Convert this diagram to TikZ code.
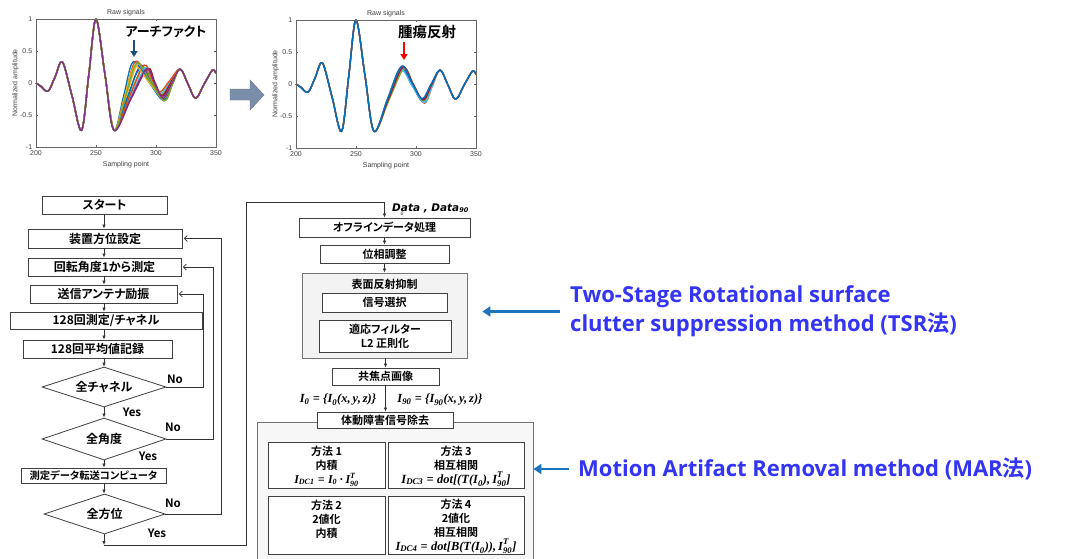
\documentclass[tikz,border=0pt]{standalone}
\usepackage[no-math]{fontspec}
\usepackage{amsmath}
\setmainfont{Liberation Sans}
\newfontfamily\jp{Noto Sans CJK JP}[RawFeature=+palt, BoldFont={Noto Sans CJK JP Bold}]
\newfontfamily\ops{Open Sans}
\newfontfamily\dv{DejaVu Sans}
\newfontfamily\lser{Liberation Serif}
\usetikzlibrary{arrows.meta,shapes.geometric}
\definecolor{mA}{RGB}{0,114,189}
\definecolor{mB}{RGB}{217,83,25}
\definecolor{mC}{RGB}{237,177,32}
\definecolor{mD}{RGB}{126,47,142}
\definecolor{mE}{RGB}{119,172,48}
\definecolor{mF}{RGB}{77,190,238}
\definecolor{mG}{RGB}{162,20,47}
\definecolor{arrblue}{RGB}{30,115,190}
\definecolor{txtblue}{RGB}{52,52,245}
\definecolor{darkarr}{RGB}{31,78,121}
\definecolor{bigarr}{RGB}{122,142,170}
\definecolor{grpfill}{RGB}{243,243,243}
\newcommand\wavecurve[5]{%
 \draw[#1, line width=1.3pt, line join=round] plot[smooth, tension=0.55] coordinates {
 (200,0) (204,-0.05) (210,-0.13) (216,0.1) (222,0.33) (230,-0.2) (238,-0.74) (244,0.13) (250,1.0) (257.5,0.13) (265,-0.74)
 ({(265+#2)/2},{(-0.74+#3)/2}) (#2,#3) ({(#2+#4)/2},{(#3+#5)/2}) (#4,#5) ({(#4+320)/2},{(#5+0.22)/2}) (320,0.22) (326.5,-0.01) (333,-0.24) (340,-0.02) (347,0.2) (350,0.15)};}
\newcommand\bi[1]{\text{\lser\bfseries\itshape #1}}
\newsavebox\bxizero
\newsavebox\bxininety
\newsavebox\bxdcone
\newsavebox\bxdcthree
\newsavebox\bxdcfour
\begin{document}
\sbox\bxizero{\fontsize{12.4}{14}\selectfont$\bi{I}_{\bi{0}}\mathrel{\bi{=}}\bi{\{I}_{\bi{0}}\bi{(x,\,y,\,z)\}}$}%
\sbox\bxininety{\fontsize{12.4}{14}\selectfont$\bi{I}_{\bi{90}}\mathrel{\bi{=}}\bi{\{I}_{\bi{90}}\bi{(x,\,y,\,z)\}}$}%
\sbox\bxdcone{\fontsize{12}{14}\selectfont$\bi{I}_{\bi{DC1}}\mathrel{\bi{=}}\bi{I}_{\bi{0}}\mathbin{\bi{·}}\bi{I}^{\bi{T}}_{\bi{90}}$}%
\sbox\bxdcthree{\fontsize{12.5}{14}\selectfont$\bi{I}_{\bi{DC3}}\mathrel{\bi{=}}\bi{dot[(T(I}_{\bi{0}}\bi{),\,I}^{\bi{T}}_{\bi{90}}\bi{]}$}%
\sbox\bxdcfour{\fontsize{12.4}{14}\selectfont$\bi{I}_{\bi{DC4}}\mathrel{\bi{=}}\bi{dot[B(T(I}_{\bi{0}}\bi{)),\,I}^{\bi{T}}_{\bi{90}}\bi{]}$}%
\begin{tikzpicture}[x=1pt,y=-1pt,
  fbox/.style={draw=black!75, fill=white, line width=0.8pt, inner sep=0pt, align=center, font=\jp\bfseries\fontsize{12}{14}\selectfont},
  mfont/.style={font=\jp\bfseries\fontsize{11}{14}\selectfont},
  dia/.style={diamond, aspect=3.1, draw=black!75, fill=white, line width=0.8pt, inner sep=0pt, font=\jp\bfseries\fontsize{12}{14}\selectfont},
  grp/.style={draw=black!55, fill=grpfill, line width=0.8pt, inner sep=0pt},
  plain/.style={inner sep=0pt, align=center, font=\jp\bfseries\fontsize{11}{14}\selectfont},
  yn/.style={inner sep=0pt, font=\jp\bfseries\fontsize{11.5}{12}\selectfont},
  arr/.style={draw=black!80, line width=0.7pt, -{Latex[length=4pt,width=3.5pt]}},
  fb/.style={draw=black!80, line width=0.7pt, -{Straight Barb[length=3pt,width=6pt]}, shorten >=1.5pt},
  tick/.style={inner sep=0pt, text=black!75, font=\fontsize{7}{8}\selectfont},
  axc/.style={draw=black!60, line width=0.5pt},
  mlab/.style={inner sep=0pt},
  barr/.style={draw=arrblue, line width=2.6pt, -{Triangle[length=8pt,width=10pt]}},
  btxt/.style={inner sep=0pt, anchor=west, text=txtblue, align=left, font=\ops\bfseries\fontsize{22}{29}\selectfont}
]
\useasboundingbox (0,0) rectangle (1088,558);
\clip (0,0) rectangle (1088,558);
\fill[white] (0,0) rectangle (1088,558);

% ---------- plot 1 ----------
\begin{scope}[shift={(-204,83)}, x=1.2pt, y=64pt]
 \foreach \c/\p/\h/\m/\n in {mA/281/0.33/306/-0.27, mB/283/0.34/307/-0.28, mC/285/0.30/306/-0.25, mD/287/0.27/305/-0.22,
   mE/289/0.25/304/-0.19, mF/291/0.24/304/-0.16, mG/293/0.23/305/-0.20, mA/286/0.21/307/-0.26,
   mB/290/0.28/303/-0.14, mC/282/0.26/306/-0.23, mE/284/0.31/307/-0.28, mD/292/0.22/306/-0.24}
   {\wavecurve{\c}{\p}{\h}{\m}{\n}}
 \draw[axc] (200,-1) rectangle (350,1);
 \foreach \v in {250,300} {\draw[axc] (\v,-1) -- (\v,-0.97); \draw[axc] (\v,1) -- (\v,0.97);}
 \foreach \v in {0.5,0,-0.5} {\draw[axc] (200,\v) -- (202,\v); \draw[axc] (350,\v) -- (348,\v);}
 \foreach \v in {1,0.5,0,-0.5,-1} \node[tick, anchor=east] at (197,\v) {\v};
 \foreach \v in {200,250,300,350} \node[tick, anchor=north] at (\v,-1.05) {\v};
 \node[tick] at (275,1.1) {Raw signals};
 \node[tick] at (275,-1.27) {Sampling point};
 \node[tick, rotate=90] at (183,0) {Normalized amplitude};
\end{scope}

% ---------- plot 2 ----------
\begin{scope}[shift={(56,84)}, x=1.2pt, y=64pt]
 \foreach \c/\p/\h/\m/\n in {mA/287/0.25/306/-0.28, mB/288/0.27/307/-0.30, mC/289/0.23/306/-0.26, mD/288/0.26/305/-0.24,
   mE/290/0.24/306/-0.27, mF/287/0.22/307/-0.29, mG/289/0.26/306/-0.25, mA/288/0.28/305/-0.23}
   {\wavecurve{\c}{\p}{\h}{\m}{\n}}
 \draw[axc] (200,-1) rectangle (350,1);
 \foreach \v in {250,300} {\draw[axc] (\v,-1) -- (\v,-0.97); \draw[axc] (\v,1) -- (\v,0.97);}
 \foreach \v in {0.5,0,-0.5} {\draw[axc] (200,\v) -- (202,\v); \draw[axc] (350,\v) -- (348,\v);}
 \foreach \v in {1,0.5,0,-0.5,-1} \node[tick, anchor=east] at (197,\v) {\v};
 \foreach \v in {200,250,300,350} \node[tick, anchor=north] at (\v,-1.05) {\v};
 \node[tick] at (275,1.1) {Raw signals};
 \node[tick] at (275,-1.27) {Sampling point};
 \node[tick, rotate=90] at (183,0) {Normalized amplitude};
\end{scope}

% annotations
\node[inner sep=0pt, font=\jp\bfseries\fontsize{13}{14}\selectfont] (art) at (166,32) {アーチファクト};
\draw[darkarr, line width=2pt, -{Triangle[length=6pt,width=7pt]}] (134,40) -- (134,57);
\node[inner sep=0pt, font=\jp\bfseries\fontsize{14.5}{15}\selectfont] (tum) at (427,32) {腫瘍反射};
\draw[red, line width=2pt, -{Triangle[length=6pt,width=7pt]}] (404,42) -- (404,60);
\fill[bigarr, draw=bigarr!80!black, line width=0.4pt] (230,89) -- (250,89) -- (250,80) -- (264,95) -- (250,110) -- (250,100) -- (230,100) -- cycle;

% ---------- left flowchart ----------
\coordinate (tr) at (104,0);
\node[fbox, minimum width=125, minimum height=18] (start) at (104.5,205) {スタート};
\node[fbox, minimum width=154, minimum height=19] (b1) at (105,238.5) {装置方位設定};
\node[fbox, minimum width=153, minimum height=18] (b2) at (104.5,267) {回転角度1から測定};
\node[fbox, minimum width=147, minimum height=18] (b3) at (103.5,294) {送信アンテナ励振};
\node[fbox, minimum width=192, minimum height=17] (b4) at (106,320.5) {128回測定/チャネル};
\node[fbox, minimum width=149, minimum height=18] (b5) at (97.5,349) {128回平均値記録};
\node[dia, minimum width=124, minimum height=40] (d1) at (104,387) {全チャネル};
\node[dia, minimum width=124, minimum height=42] (d2) at (104,439) {全角度};
\node[fbox, font=\jp\bfseries\fontsize{10.3}{12}\selectfont, minimum width=145, minimum height=15] (b6) at (93.5,475.5) {測定データ転送コンピュータ};
\node[dia, minimum width=121, minimum height=40] (d3) at (104.5,514) {全方位};

\foreach \a/\b in {start/b1,b1/b2,b2/b3,b3/b4,b4/b5,b5/d1,d1/d2,d2/b6,b6/d3}
  \draw[arr] (tr |- \a.south) -- (tr |- \b.north);

\draw[fb] (d1.east) -- ++(37,0) |- (b3.east);
\draw[fb] (d2.east) -- ++(47,0) |- (b2.east);
\draw[fb] (d3.east) -- ++(56,0) |- (b1.east);

\node[yn] (no1) at (175,379) {No};
\node[yn] (yes1) at (132,412) {Yes};
\node[yn] (no2) at (173,427) {No};
\node[yn] (yes2) at (148,456) {Yes};
\node[yn] (no3) at (173,503) {No};
\node[yn] (yes3) at (157,533) {Yes};

\coordinate (lb) at (104,545);
\coordinate (lc) at (246,545);
\coordinate (ld) at (246,202);
\draw[arr] (tr |- d3.south) -- (lb);

% ---------- middle column ----------
\node[fbox, mfont, minimum width=171, minimum height=19] (m1) at (384.5,227.5) {オフラインデータ処理};
\draw[arr] (lb) -- (lc) -- (ld) -| (m1.north);
\node[inner sep=0pt, font=\fontsize{5}{5}\selectfont\itshape] (zero) at (402,214) {0};
\node[inner sep=0pt, anchor=west, font=\dv\bfseries\itshape\fontsize{10.5}{12}\selectfont] (data) at (392,208) {Data , Data\raisebox{-0.25ex}{\fontsize{6.5}{7}\selectfont 90}};
\node[fbox, mfont, minimum width=129, minimum height=18] (m2) at (384.5,254) {位相調整};
\node[grp, minimum width=165, minimum height=85] (g1) at (384.5,315.5) {};
\node[plain] (g1t) at (384.5,284) {表面反射抑制};
\node[fbox, mfont, minimum width=125, minimum height=19] (m3) at (384.5,302.5) {信号選択};
\node[fbox, mfont, minimum width=132, minimum height=32] (m4) at (385,336) {適応フィルター\\L2 正則化};
\node[fbox, mfont, minimum width=107, minimum height=17] (m5) at (385.5,376.5) {共焦点画像};
\draw[arr] (m1.south) -- (m1.south |- m2.north);
\draw[arr] (m2.south) -- (m2.south |- g1.north);
\draw[arr] (m5.north |- g1.south) -- (m5.north);

\node[mlab] (lbzero) at (338,400) {\usebox\bxizero};
\node[mlab] (lbninety) at (440,400) {\usebox\bxininety};

\node[grp, fill=grpfill!70!white, minimum width=276, minimum height=145] (g2) at (395,494.5) {};
\node[fbox, mfont, minimum width=136, minimum height=16] (m6) at (385,420) {体動障害信号除去};
\draw[arr] (m5.south) -- (m5.south |- m6.north);

\node[fbox, mfont, minimum width=117, minimum height=46] (M1) at (326.5,465.5) {};
\node[plain] (M1t) at (326.5,466) {方法 1\\内積\\\usebox\bxdcone};
\node[fbox, mfont, minimum width=136, minimum height=46] (M3) at (456,465.5) {};
\node[plain] (M3t) at (456,466) {方法 3\\相互相関\\\usebox\bxdcthree};
\node[fbox, mfont, minimum width=117, minimum height=58] (M2) at (326.5,525) {};
\node[plain] (M2t) at (326.5,519.5) {方法 2\\2値化\\内積};
\node[fbox, mfont, minimum width=136, minimum height=58] (M4) at (456,525) {};
\node[plain] (M4t) at (456,526) {方法 4\\2値化\\相互相関\\\usebox\bxdcfour};

% ---------- right texts ----------
\node[btxt] (tsr) at (570,311.5) {Two-Stage Rotational surface\\clutter suppression method (TSR{\jp\bfseries 法})};
\draw[barr] ([xshift=-10pt]tsr.west) -- ([xshift=15pt]g1.east |- tsr.west);
\node[btxt] (mar) at (578,469) {Motion Artifact Removal method (MAR{\jp\bfseries 法})};
\draw[barr] ([xshift=-9pt]mar.west) -- (g2.east |- mar.west);
\end{tikzpicture}
\end{document}
